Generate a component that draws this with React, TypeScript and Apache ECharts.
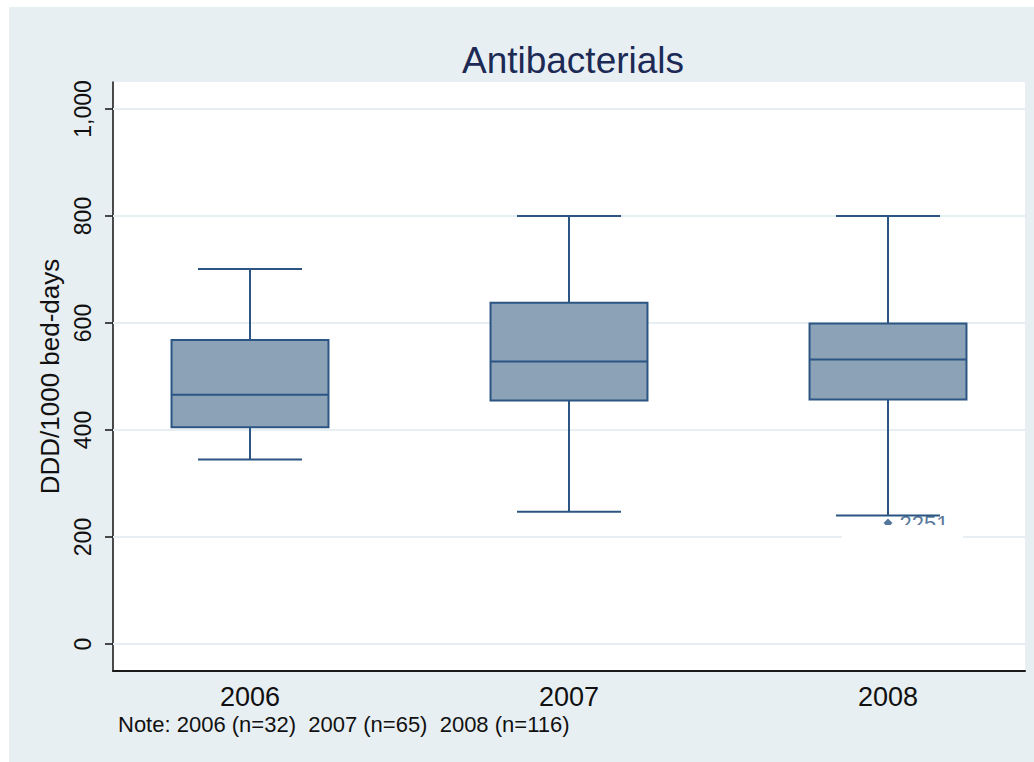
import React, { useEffect, useRef } from 'react';
import * as echarts from 'echarts';

// ---- Data ----
const years = ['2006', '2007', '2008'];
const whiskerLow = [345, 247, 240];
const q1 = [405, 455, 457];
const median = [466, 528, 532];
const q3 = [568, 638, 599];
const whiskerHigh = [701, 800, 800];
const outlierYearIndex = [2];
const outlierValues = [226];
const outlierLabels = ['2251'];
const yMin = 0;
const yMax = 1000;
const yInterval = 200;
const titleText = 'Antibacterials';
const yTitle = 'DDD/1000 bed-days';
const noteText = 'Note: 2006 (n=32)  2007 (n=65)  2008 (n=116)';

const FILL = '#8ca2b7';
const STROKE = '#2b5582';
const BG = '#e8eff2';
const FONT = '"Liberation Sans", Arial, sans-serif';
const CW = 1070; // chart canvas width (wider than the page, clipped by the wrapper)

export default function App() {
  const ref = useRef<HTMLDivElement>(null);

  useEffect(() => {
    document.body.style.margin = '0';
    if (!ref.current) return;
    const chart = echarts.init(ref.current, undefined, { renderer: 'svg' });

    const boxData = years.map((_, i) => [i, whiskerLow[i], q1[i], median[i], q3[i], whiskerHigh[i]]);
    const outlierData = outlierYearIndex.map((xi, i) => [xi, outlierValues[i]]);

    const option: any = {
      animation: false,
      backgroundColor: 'transparent',
      textStyle: { fontFamily: FONT },
      title: {
        text: titleText,
        left: 568,
        top: 37,
        textAlign: 'center',
        textStyle: { fontFamily: FONT, fontSize: 37, fontWeight: 'normal', color: '#1c2a55' },
      },
      grid: [
        { left: 113, right: CW - 1025, top: 82, bottom: 91, show: true, backgroundColor: '#ffffff', borderWidth: 0, z: -1 },
        { left: 113, right: CW - 1025, top: 109, bottom: 118 },
        { left: 90.5, right: CW - 1047.5, top: 109, bottom: 118 },
      ],
      xAxis: [
        {
          gridIndex: 0, type: 'value', min: 0, max: 1,
          axisLine: { show: true, onZero: false, lineStyle: { color: '#1a1a1a', width: 2 } },
          axisTick: { show: false }, axisLabel: { show: false }, splitLine: { show: false },
        },
        {
          gridIndex: 1, type: 'value', min: 0, max: 1, show: false,
        },
        {
          gridIndex: 2, type: 'category', data: years, boundaryGap: true, offset: 27,
          axisLine: { show: false }, axisTick: { show: false }, splitLine: { show: false },
          axisLabel: { show: true, fontSize: 27, color: '#111', margin: 12, fontFamily: FONT },
        },
      ],
      yAxis: [
        {
          gridIndex: 0, type: 'value', min: 0, max: 1,
          axisLine: { show: true, onZero: false, lineStyle: { color: '#111', width: 1.5 } },
          axisTick: { show: false }, axisLabel: { show: false }, splitLine: { show: false },
        },
        {
          gridIndex: 1, type: 'value', min: yMin, max: yMax, interval: yInterval, z: 1,
          axisLine: { show: false },
          axisTick: { show: true, length: 8, lineStyle: { color: '#111', width: 1.5 } },
          axisLabel: {
            show: true, rotate: 90, fontSize: 23, color: '#111', margin: 19, fontFamily: FONT,
            formatter: (v: number) => v.toLocaleString('en-US'),
          },
          splitLine: { show: true, lineStyle: { color: BG, width: 2 } },
          name: yTitle,
          nameLocation: 'middle',
          nameRotate: 90,
          nameGap: 50,
          nameTextStyle: { fontSize: 26, color: '#111', fontFamily: FONT },
        },
        {
          gridIndex: 2, type: 'value', min: yMin, max: yMax, show: false,
        },
      ],
      series: [
        {
          type: 'custom',
          xAxisIndex: 2,
          yAxisIndex: 2,
          data: boxData,
          encode: { x: 0, y: [1, 2, 3, 4, 5] },
          z: 3,
          renderItem: (params: any, api: any) => {
            const idx = api.value(0);
            const lo = api.coord([idx, api.value(1)]);
            const b1 = api.coord([idx, api.value(2)]);
            const md = api.coord([idx, api.value(3)]);
            const b3 = api.coord([idx, api.value(4)]);
            const hi = api.coord([idx, api.value(5)]);
            const band = api.size([1, 0])[0];
            const half = band * 0.246;
            const cap = band * 0.163;
            const cx = lo[0];
            const ls = { stroke: STROKE, lineWidth: 2 };
            return {
              type: 'group',
              children: [
                { type: 'line', shape: { x1: cx, y1: hi[1], x2: cx, y2: b3[1] }, style: ls },
                { type: 'line', shape: { x1: cx, y1: b1[1], x2: cx, y2: lo[1] }, style: ls },
                { type: 'line', shape: { x1: cx - cap, y1: hi[1], x2: cx + cap, y2: hi[1] }, style: ls },
                { type: 'line', shape: { x1: cx - cap, y1: lo[1], x2: cx + cap, y2: lo[1] }, style: ls },
                {
                  type: 'rect',
                  shape: { x: cx - half, y: b3[1], width: half * 2, height: b1[1] - b3[1] },
                  style: { fill: FILL, stroke: STROKE, lineWidth: 2 },
                },
                { type: 'line', shape: { x1: cx - half, y1: md[1], x2: cx + half, y2: md[1] }, style: ls },
              ],
            };
          },
        },
        {
          type: 'scatter',
          xAxisIndex: 2,
          yAxisIndex: 2,
          data: outlierData,
          symbol: 'diamond',
          symbolSize: 9,
          z: 4,
          itemStyle: { color: STROKE },
          label: {
            show: true,
            position: 'right',
            distance: 7,
            fontSize: 22,
            color: STROKE,
            fontFamily: FONT,
            formatter: (p: any) => outlierLabels[p.dataIndex],
          },
        },
      ],
      graphic: [
        {
          type: 'rect',
          z: 100,
          shape: { x: 842, y: 525, width: 121, height: 35 },
          style: { fill: '#ffffff' },
        },
        {
          type: 'text',
          left: 118,
          top: 713,
          style: { text: noteText, fontSize: 22, fill: '#111', fontFamily: FONT },
        },
      ],
    };

    chart.setOption(option);
    return () => chart.dispose();
  }, []);

  return (
    <div style={{ position: 'relative', width: 1034, height: 762, background: '#ffffff', overflow: 'hidden' }}>
      <div style={{ position: 'absolute', left: 9, top: 7, width: 1025, height: 755, background: BG }} />
      <div ref={ref} style={{ position: 'absolute', left: 0, top: 0, width: CW, height: 762 }} />
    </div>
  );
}
